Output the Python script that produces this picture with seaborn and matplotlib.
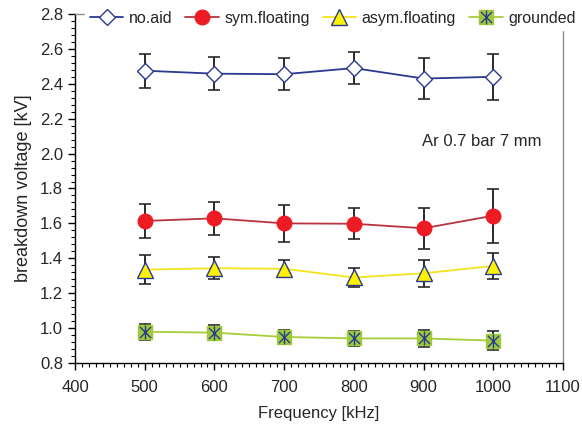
import matplotlib
matplotlib.use("Agg")
import matplotlib.pyplot as plt
from matplotlib.ticker import MultipleLocator, FormatStrFormatter
from matplotlib.path import Path
from matplotlib.legend_handler import HandlerTuple
import seaborn as sns
import pandas as pd

freq = [500, 600, 700, 800, 900, 1000]

no_aid = [2.475, 2.458, 2.455, 2.49, 2.43, 2.44]
no_aid_err = [0.097, 0.093, 0.093, 0.09, 0.115, 0.133]

sym_floating = [1.614, 1.629, 1.600, 1.598, 1.572, 1.644]
sym_floating_err = [0.097, 0.093, 0.105, 0.088, 0.116, 0.155]

asym_floating = [1.335, 1.343, 1.340, 1.290, 1.314, 1.356]
asym_floating_err = [0.082, 0.064, 0.050, 0.053, 0.078, 0.075]

grounded = [0.979, 0.974, 0.949, 0.941, 0.941, 0.928]
grounded_err = [0.046, 0.045, 0.040, 0.043, 0.050, 0.055]

series_names = ["no.aid", "sym.floating", "asym.floating", "grounded"]

sns.set_style("ticks")
plt.rcParams["font.family"] = ["Liberation Sans", "DejaVu Sans"]

rows = []
for name, vals in zip(series_names, [no_aid, sym_floating, asym_floating, grounded]):
    for f, v in zip(freq, vals):
        rows.append({"freq": f, "voltage": v, "series": name})
df = pd.DataFrame(rows)

# excel style star: an X plus a vertical bar
star = Path([(-1, -1), (1, 1), (-1, 1), (1, -1), (0, -1.25), (0, 1.25)],
            [Path.MOVETO, Path.LINETO, Path.MOVETO, Path.LINETO, Path.MOVETO, Path.LINETO])

styles = {
    "no.aid": dict(color="#2B3990", marker="D", mfc="white", mec="#2B3990", ms=8, mew=1.0),
    "sym.floating": dict(color="#B8333D", marker="o", mfc="#ED1C24", mec="#ED1C24", ms=10.5, mew=1.0),
    "asym.floating": dict(color="#F2E41C", marker="^", mfc="#FFF200", mec="#2B3990", ms=11, mew=1.0),
    "grounded": dict(color="#A6CE39", marker="s", mfc="#9DC93B", mec="#9DC93B", ms=10, mew=1.0),
}
errs = {"no.aid": no_aid_err, "sym.floating": sym_floating_err,
        "asym.floating": asym_floating_err, "grounded": grounded_err}

fig = plt.figure(figsize=(5.82, 4.28), dpi=100)
ax = fig.add_axes([0.1289, 0.1519, 0.8385, 0.8154])

handles = []
for name in series_names:
    sub = df[df["series"] == name]
    st = styles[name]
    ax.errorbar(sub["freq"], sub["voltage"], yerr=errs[name], fmt="none",
                ecolor="#2a2a2a", elinewidth=1.4, capsize=4, capthick=1.2, zorder=2)
    sns.lineplot(data=sub, x="freq", y="voltage", ax=ax, color=st["color"],
                 linewidth=1.3, marker=st["marker"], markersize=st["ms"],
                 markerfacecolor=st["mfc"], markeredgecolor=st["mec"],
                 markeredgewidth=st["mew"], zorder=3, legend=False)
    h, = ax.plot([], [], color=st["color"], linewidth=1.3, marker=st["marker"],
                 markersize=st["ms"], markerfacecolor=st["mfc"],
                 markeredgecolor=st["mec"], markeredgewidth=st["mew"])
    if name == "grounded":
        ax.plot(sub["freq"], sub["voltage"], linestyle="none", marker=star,
                markersize=10, markeredgecolor="#2B3990", markeredgewidth=1.0, zorder=4)
        h2, = ax.plot([], [], linestyle="none", marker=star, markersize=10,
                      markeredgecolor="#2B3990", markeredgewidth=1.0)
        handles.append((h, h2))
    else:
        handles.append(h)

ax.set_xlim(400, 1100)
ax.set_ylim(0.8, 2.8)
ax.xaxis.set_major_locator(MultipleLocator(100))
ax.xaxis.set_minor_locator(MultipleLocator(10))
ax.yaxis.set_major_locator(MultipleLocator(0.2))
ax.yaxis.set_minor_locator(MultipleLocator(0.04))
ax.yaxis.set_major_formatter(FormatStrFormatter("%.1f"))
ax.tick_params(axis="both", which="major", length=5, width=1, labelsize=12, direction="out", color="black")
ax.tick_params(axis="both", which="minor", length=3, width=0.8, direction="out", color="black")
ax.tick_params(axis="x", pad=7)

for side in ["left", "bottom"]:
    ax.spines[side].set_color("black")
    ax.spines[side].set_linewidth(1.0)
for side in ["top", "right"]:
    ax.spines[side].set_visible(True)
    ax.spines[side].set_color("#8C8C8C")
    ax.spines[side].set_linewidth(1.0)

ax.set_xlabel("Frequency [kHz]", fontsize=12, labelpad=8)
ax.set_ylabel("breakdown voltage [kV]", fontsize=13, labelpad=6)

ax.text(898, 2.07, "Ar 0.7 bar 7 mm", fontsize=12, ha="left", va="center")

leg = fig.legend(handles, series_names, loc="upper right", bbox_to_anchor=(1.0, 0.99),
                 ncol=4, fontsize=11.5, frameon=True, fancybox=False, facecolor="white",
                 edgecolor="white", framealpha=1.0, handlelength=2.1, handletextpad=0.35,
                 columnspacing=0.8, borderpad=0.3, borderaxespad=0.1,
                 handler_map={tuple: HandlerTuple(ndivide=1)})

fig.savefig("out.png", dpi=100)
